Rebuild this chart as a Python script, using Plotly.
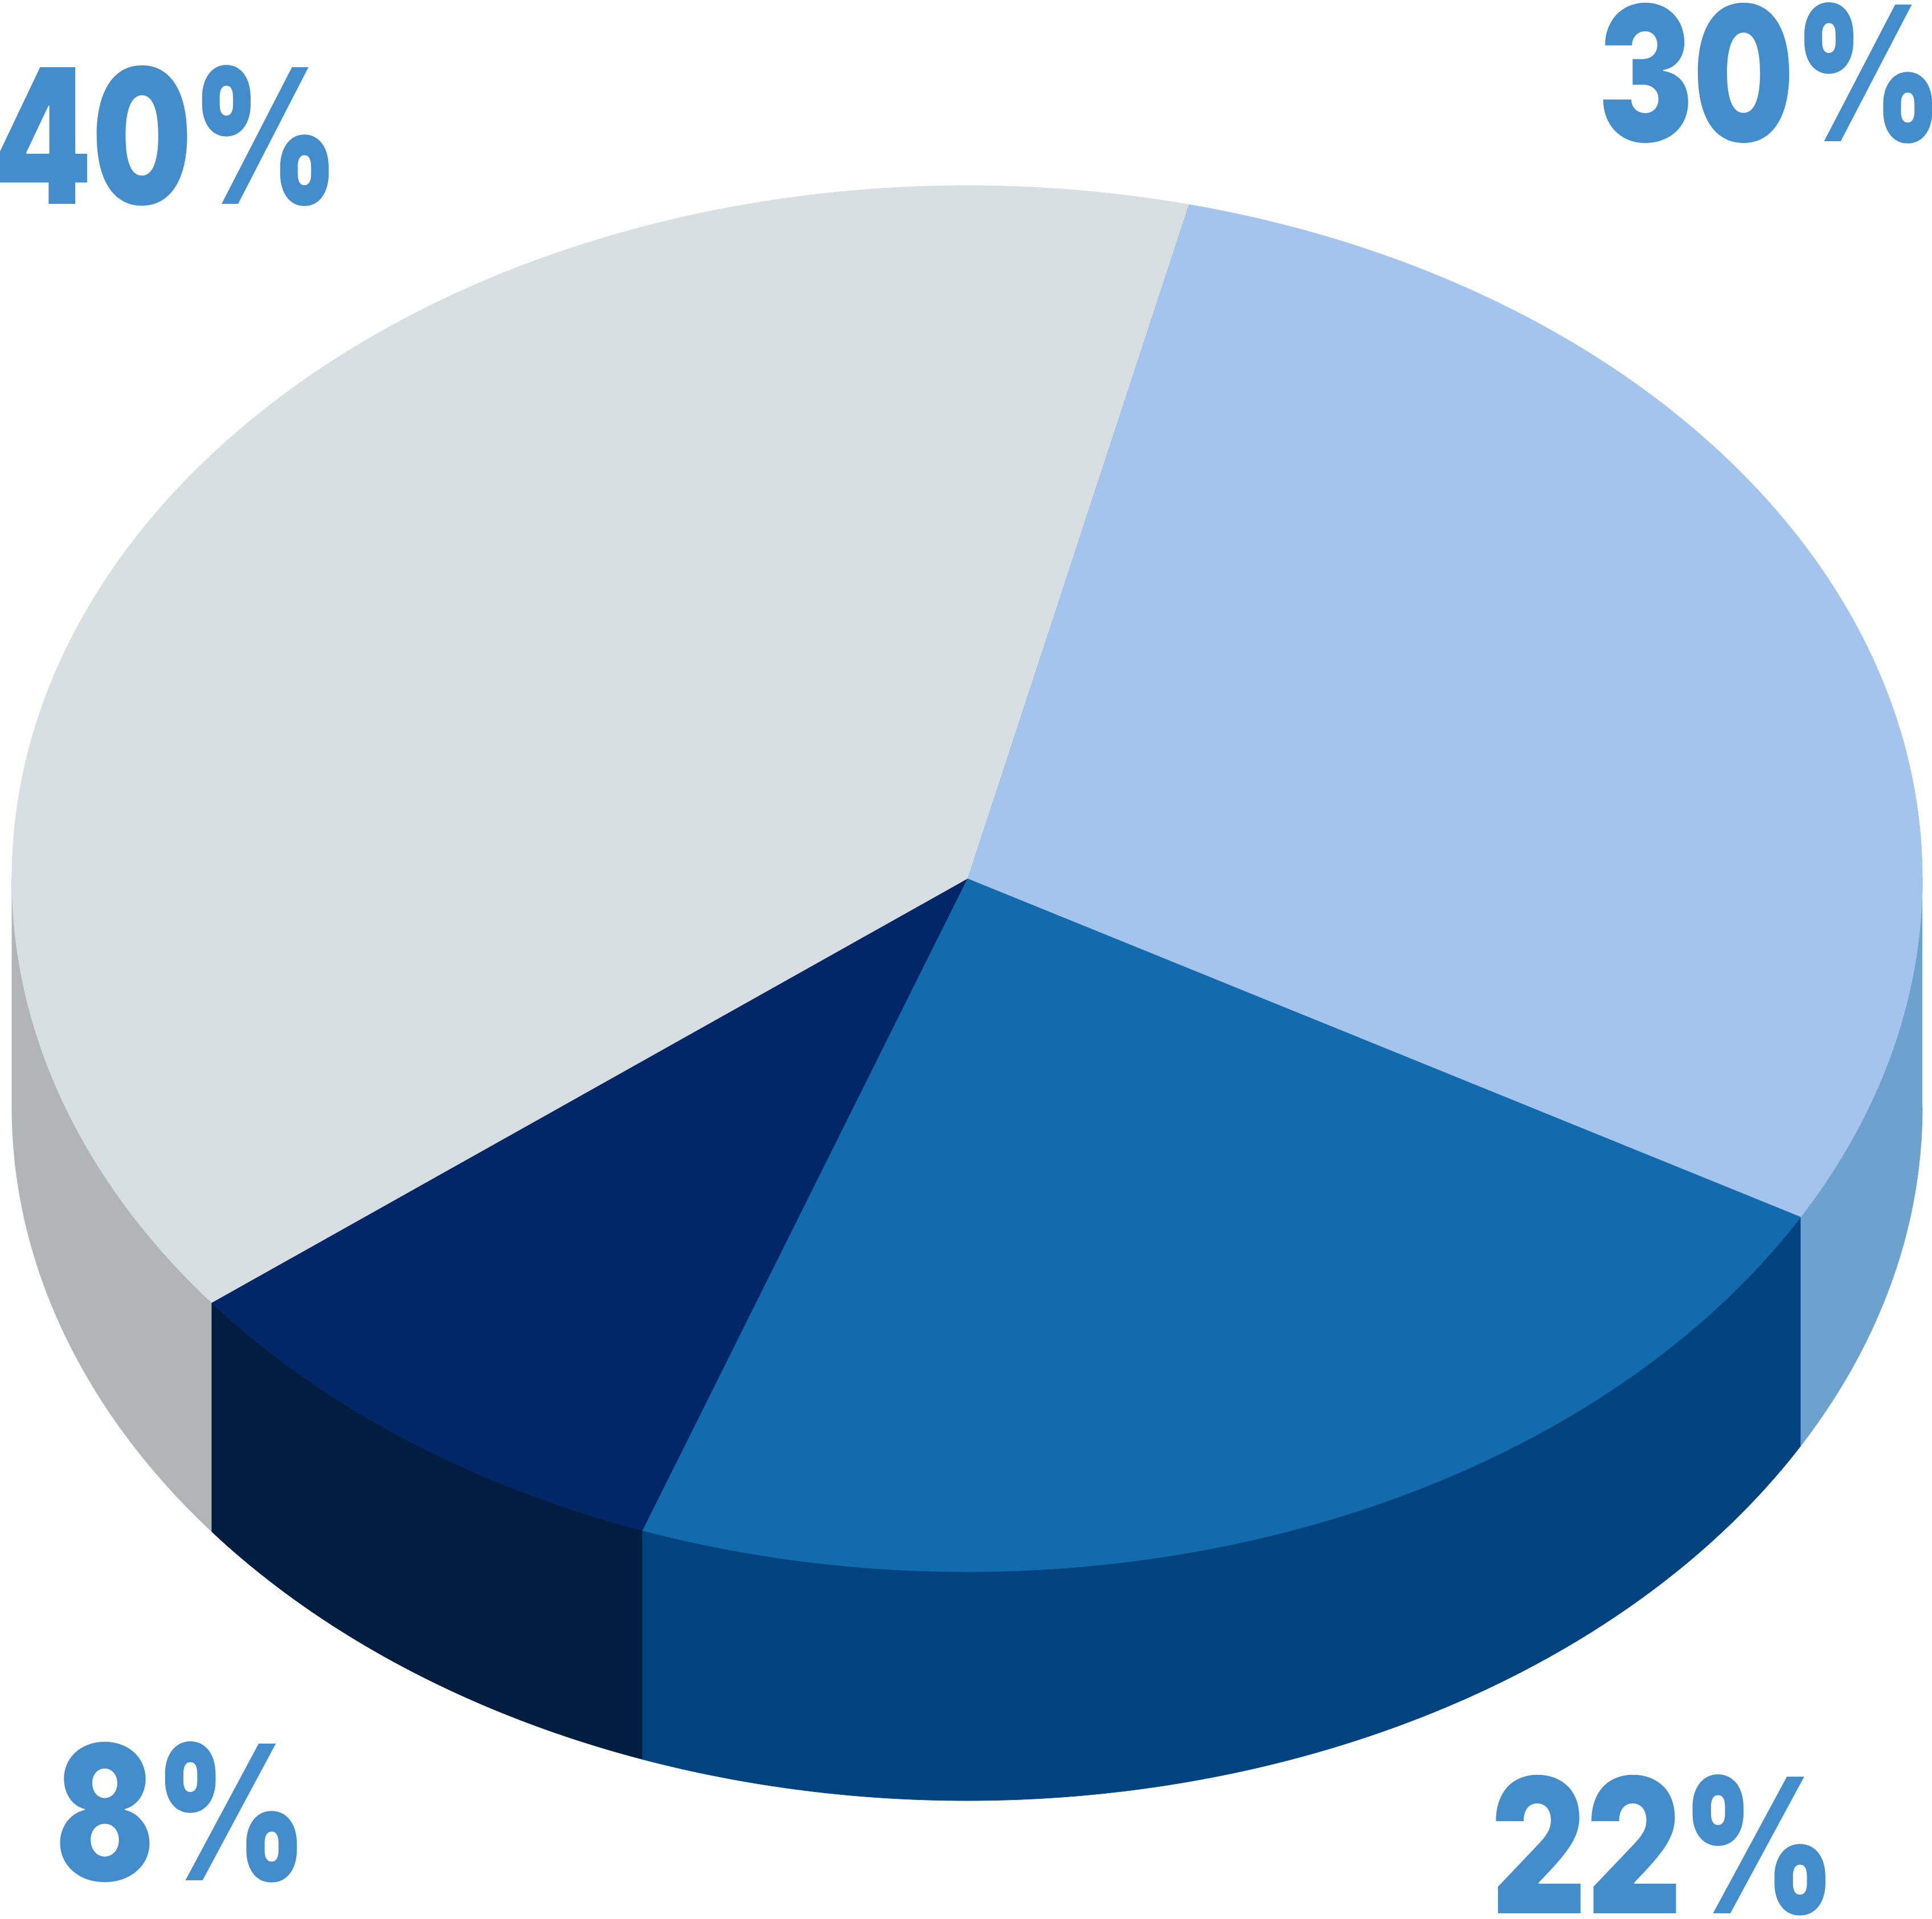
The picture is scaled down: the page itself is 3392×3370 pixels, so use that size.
import json
import numpy as np
import plotly.graph_objects as go

# Slices, clockwise from the top edge of the blue slice
labels = ["30%", "22%", "8%", "40%"]
# Shares as drawn in the picture (the printed labels are rounded differently)
shares = [29.4, 22.4, 9.0, 39.2]
start_angle = 13.4

top_colors = ["#A3C4EC", "#116BAD", "#012768", "#D7DFE2"]
side_colors = ["#6EA2CE", "#01437F", "#011E40", "#B1B5B5"]
text_color = "#438DCC"

# Picture geometry in page pixels
W, H = 3392, 3370
cx, cy = 1698, 1543
rx, ry = 1677, 1217
depth = 402

label_x = [3108, 2920, 318, 291]
label_y = [128, 3240, 3182, 238]
label_width = [605, 606, 443, 607]
label_size = 330


def arc(a0, a1):
    t = np.radians(np.linspace(a0, a1, 600))
    return cx + rx * np.sin(t), cy - ry * np.cos(t)


fig = go.Figure()

edges = start_angle + np.cumsum([0] + shares) * 3.6

# Side wall only shows on the front half of the ellipse
for i in range(len(shares)):
    a0 = max(edges[i], 90)
    a1 = min(edges[i + 1], 270)
    if a1 <= a0:
        continue
    x, y = arc(a0, a1)
    fig.add_trace(go.Scatter(
        x=np.r_[x, x[::-1]], y=np.r_[y, y[::-1] + depth],
        mode="lines", fill="toself", fillcolor=side_colors[i],
        line=dict(color=side_colors[i], width=1, simplify=False),
        hoverinfo="skip", showlegend=False,
    ))

# Top face
for i in range(len(shares)):
    x, y = arc(edges[i], edges[i + 1])
    fig.add_trace(go.Scatter(
        x=np.r_[cx, x, cx], y=np.r_[cy, y, cy],
        mode="lines", fill="toself", fillcolor=top_colors[i],
        line=dict(color=top_colors[i], width=1, simplify=False),
        name=labels[i], hoverinfo="name", showlegend=False,
    ))

for i in range(len(labels)):
    fig.add_annotation(
        x=label_x[i], y=label_y[i], text=labels[i],
        showarrow=False, xanchor="center", yanchor="middle",
        font=dict(family="Inter", weight=900, size=label_size, color=text_color),
    )

fig.update_xaxes(visible=False, range=[0, W])
fig.update_yaxes(visible=False, range=[H, 0])
fig.update_layout(
    width=W, height=H,
    margin=dict(l=0, r=0, t=0, b=0),
    paper_bgcolor="white", plot_bgcolor="white",
)

# No page margin, and squeeze the labels to the condensed widths of the original
post = """
document.body.style.margin = '0';
var widths = %s;
document.querySelectorAll('.annotation-text').forEach(function (t, i) {
    t.setAttribute('textLength', widths[i]);
    t.setAttribute('lengthAdjust', 'spacingAndGlyphs');
});
""" % json.dumps(label_width)

fig.write_html("out.html", post_script=post, config={"displayModeBar": False})
